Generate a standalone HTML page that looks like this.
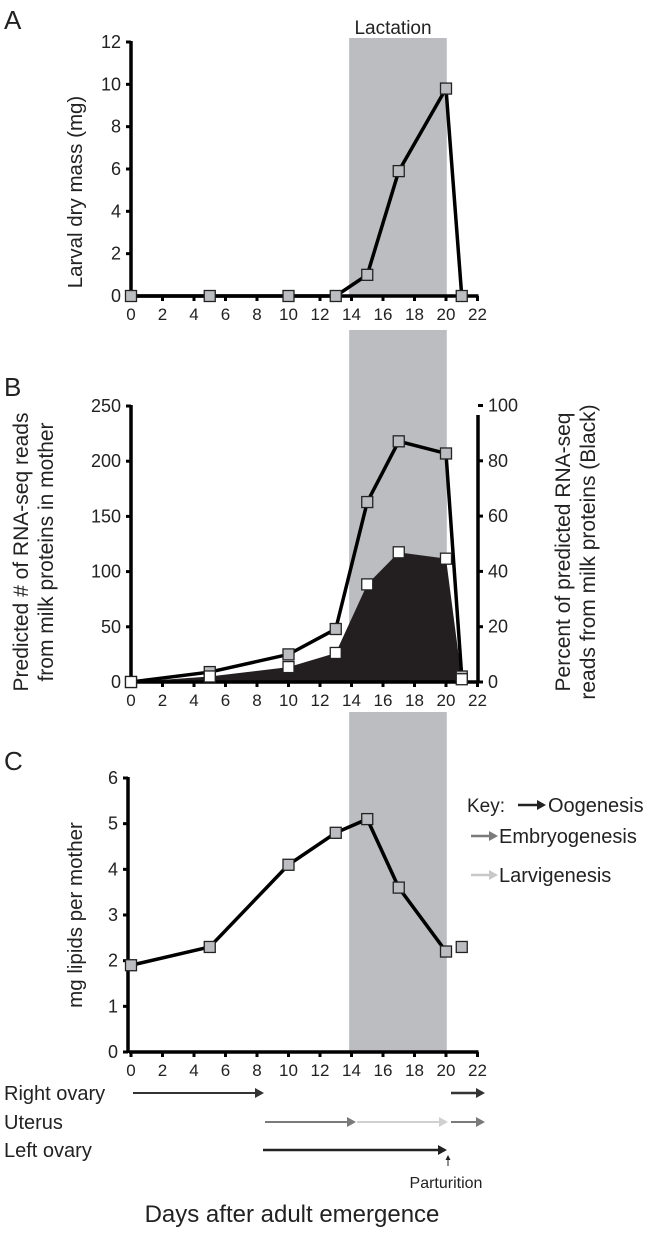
<!DOCTYPE html>
<html><head><meta charset="utf-8"><style>
body{margin:0;background:#fff}
svg{display:block;font-family:"Liberation Sans",Arial,sans-serif}
</style></head><body>
<svg id="fig" width="664" height="1233" viewBox="0 0 664 1233" xmlns="http://www.w3.org/2000/svg">
<g id="g"></g>
</svg>
<script>
// ---- data ----
const daysA = [0,5,10,13,15,17,20,21];
const massA = [0,0,0,0,1,5.9,9.8,0];
const daysB = [0,5,10,13,15,17,20,21];
const readsB = [0,9,25,48,163,218,207,5];
const percentB = [0,2,5.4,10.5,35.3,46.9,44.6,1];
const daysC = [0,5,10,13,15,17,20,21];
const lipidsC = [1.9,2.3,4.1,4.8,5.1,3.6,2.2,2.3];
const xTicks = [0,2,4,6,8,10,12,14,16,18,20,22];
const yTicksA = [0,2,4,6,8,10,12];
const yTicksBL = [0,50,100,150,200,250];
const yTicksBR = [0,20,40,60,80,100];
const yTicksC = [0,1,2,3,4,5,6];
const lactation = [13.85,20.05];

const NS="http://www.w3.org/2000/svg";
const g=document.getElementById('g');
function el(t,a,txt){const e=document.createElementNS(NS,t);for(const k in a)e.setAttribute(k,a[k]);if(txt!==undefined)e.textContent=txt;g.appendChild(e);return e;}
const X0=131, PXD=15.75;
const xs=d=>X0+d*PXD;

function shade(yTop,yBot,name){
  const r=el('rect',{x:xs(lactation[0]),y:yTop,width:xs(lactation[1])-xs(lactation[0]),height:yBot-yTop,fill:'#bcbdc0'});
  
  
}
function xAxis(y0,name){
  const a=el('line',{x1:X0-2,y1:y0,x2:xs(22)+1,y2:y0,stroke:'#000','stroke-width':3.5});
  
  
  xTicks.forEach(t=>{
    el('line',{x1:xs(t),y1:y0,x2:xs(t),y2:y0+5,stroke:'#000','stroke-width':3});
    const tx=el('text',{x:xs(t),y:y0+24,'font-size':17,'text-anchor':'middle',fill:'#222'},String(t));
    
    
  });
}
function yAxis(x,y0,yTop,ticks,ys,side,name){
  const a=el('line',{x1:x,y1:y0+1,x2:x,y2:yTop-1,stroke:'#000','stroke-width':3.5});
  
  
  ticks.forEach(t=>{
    const y=ys(t);
    el('line',{x1:x,y1:y,x2:side<0?x-5:x+5,y2:y,stroke:'#000','stroke-width':3});
    const tx=el('text',{x:side<0?x-10:x+10,y:y+6,'font-size':18,'text-anchor':side<0?'end':'start',fill:'#222'},String(t));
    
    
  });
}
function line(days,vals,ys,name){
  const p=el('polyline',{points:days.map((d,i)=>xs(d)+','+ys(vals[i])).join(' '),fill:'none',stroke:'#000','stroke-width':3.5});
  
  
}
function marks(days,vals,ys,fill,name){
  days.forEach((d,i)=>{
    const r=el('rect',{x:xs(d)-5.5,y:ys(vals[i])-5.5,width:11,height:11,fill:fill,stroke:'#222','stroke-width':1.3});
    
    
  });
}
function vtitle(x,y,lines,name,size){
  const t=el('text',{transform:`translate(${x},${y}) rotate(-90)`,'font-size':size||20,'text-anchor':'middle',fill:'#222'});
  
  
  lines.forEach((s,i)=>{const ts=document.createElementNS(NS,'tspan');ts.setAttribute('x',0);ts.setAttribute('dy',i==0?0:25);ts.textContent=s;t.appendChild(ts);});
}
function label(x,y,s,size,name,anchor,fill){
  const t=el('text',{x:x,y:y,'font-size':size,'text-anchor':anchor||'start',fill:fill||'#222'},s);
  
  
}

// ---- Panel A ----
const yA=v=>296-(v/12)*(296-42);
shade(38,296,'lactation-shade-a');
label(393,34,'Lactation',19,'lactation-label','middle');
label(4,29,'A',26,'panel-label-a');
yAxis(X0,296,42,yTicksA,yA,-1,'y-axis-a');
xAxis(296,'x-axis-a');
line(daysA,massA,yA,'larval-mass-line');
marks(daysA,massA,yA,'#bcbdc0','larval-mass-point');
vtitle(82,192,['Larval dry mass (mg)'],'y-axis-title-a',20.5);

// ---- Panel B ----
const yBL=v=>682-(v/250)*(682-406);
const yBR=v=>682-(v/100)*(682-405.5);
shade(330,682,'lactation-shade-b');
label(4,396,'B',26,'panel-label-b');
const area=el('polygon',{points:xs(daysB[0])+','+yBR(0)+' '+daysB.map((d,i)=>xs(d)+','+yBR(percentB[i])).join(' ')+' '+xs(daysB[daysB.length-1])+','+yBR(0),fill:'#231f20'});


yAxis(X0,682,406,yTicksBL,yBL,-1,'y-axis-b-left');
yAxis(478,682,416,yTicksBR,yBR,1,'y-axis-b-right');
xAxis(682,'x-axis-b');
line(daysB,readsB,yBL,'milk-reads-line');
marks(daysB,readsB,yBL,'#bcbdc0','milk-reads-point');
marks(daysB,percentB,yBR,'#fff','percent-point');
vtitle(28,552,['Predicted # of RNA-seq reads','from milk proteins in mother'],'y-axis-title-b-left',21);
vtitle(570,552,['Percent of predicted RNA-seq','reads from milk proteins (Black)'],'y-axis-title-b-right',21);

// ---- Panel C ----
const yC=v=>1052-(v/6)*(1052-778);
shade(712,1052,'lactation-shade-c');
label(4,770,'C',26,'panel-label-c');
yAxis(X0-3,1052,778,yTicksC,yC,-1,'y-axis-c');
xAxis(1052,'x-axis-c');
line(daysC.slice(0,7),lipidsC.slice(0,7),yC,'lipids-line');
marks(daysC,lipidsC,yC,'#bcbdc0','lipids-point');
vtitle(82,915,['mg lipids per mother'],'y-axis-title-c',20.5);

// ---- key ----
function arrow(x1,x2,y,col,name,w){
  const l=el('line',{x1:x1,y1:y,x2:x2-7,y2:y,stroke:col,'stroke-width':w||2});
  
  
  el('polygon',{points:`${x2},${y} ${x2-9},${y-5} ${x2-9},${y+5}`,fill:col});
}
label(467,812,'Key:',19,'key-title');
arrow(518,546,805,'#222','key-oogenesis-arrow',2.5);
label(548,812,'Oogenesis',20,'key-oogenesis');
arrow(471,498,836,'#7a7a7a','key-embryogenesis-arrow',2.5);
label(499,843,'Embryogenesis',20,'key-embryogenesis');
arrow(471,498,875,'#c8c8c8','key-larvigenesis-arrow',2.5);
label(499,882,'Larvigenesis',20,'key-larvigenesis');

// ---- stage arrows ----
label(4,1100,'Right ovary',20,'right-ovary-label');
label(4,1129,'Uterus',20,'uterus-label');
label(4,1157,'Left ovary',20,'left-ovary-label');
arrow(133,264,1093,'#333','right-ovary-oogenesis-1');
arrow(451,485,1093,'#333','right-ovary-oogenesis-2',2.5);
arrow(265,356,1122,'#7a7a7a','uterus-embryogenesis');
arrow(357,448,1122,'#d0d0d0','uterus-larvigenesis');
arrow(451,485,1122,'#7a7a7a','uterus-embryogenesis-2');
arrow(263,447,1150,'#222','left-ovary-oogenesis',2.5);
const pa=el('line',{x1:448,y1:1166,x2:448,y2:1158,stroke:'#222','stroke-width':1});


el('polygon',{points:'448,1155 445.5,1160 450.5,1160',fill:'#222'});
label(446,1188,'Parturition',16,'parturition-label','middle');
label(292,1222,'Days after adult emergence',24,'x-axis-title','middle');
</script>
</body></html>
